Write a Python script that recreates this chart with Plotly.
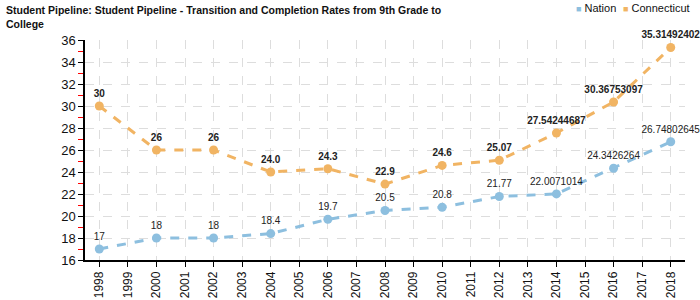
import plotly.graph_objects as go

years = [1998, 2000, 2002, 2004, 2006, 2008, 2010, 2012, 2014, 2016, 2018]
nation = [17, 18, 18, 18.4, 19.7, 20.5, 20.8, 21.77, 22.0071014, 24.3426264, 26.74802645]
nation_text = ["17", "18", "18", "18.4", "19.7", "20.5", "20.8", "21.77", "22.0071014", "24.3426264", "26.74802645"]
ct = [30, 26, 26, 24.0, 24.3, 22.9, 24.6, 25.07, 27.54244687, 30.36753097, 35.31492402]
ct_text = ["30", "26", "26", "24.0", "24.3", "22.9", "24.6", "25.07", "27.54244687", "30.36753097", "35.31492402"]
series_names = ["Nation", "Connecticut"]

blue = "#8dbfdf"
orange = "#f1b463"
font = "Liberation Sans, Arial, sans-serif"

fig = go.Figure()
fig.add_trace(go.Scatter(
    x=years, y=nation, mode="lines+markers+text", text=nation_text, name=series_names[0],
    textposition="top center", textfont=dict(size=10, color="#222", family=font),
    line=dict(color=blue, width=3, dash="dash"), marker=dict(size=9, color=blue),
    showlegend=False, cliponaxis=False))
fig.add_trace(go.Scatter(
    x=years, y=ct, mode="lines+markers+text", text=["<b>%s</b>" % t for t in ct_text], name=series_names[1],
    textposition="top center", textfont=dict(size=10, color="#222", family=font),
    line=dict(color=orange, width=3, dash="dash"), marker=dict(size=9, color=orange),
    showlegend=False, cliponaxis=False))

# legend as annotations (tight square marker + label)
fig.add_annotation(xref="paper", yref="paper", x=0.815, y=1.145, xanchor="left", yanchor="middle",
                   showarrow=False, font=dict(size=11, family=font, color="#111"),
                   text='<span style="color:%s;font-size:9px">■</span> %s' % (blue, series_names[0]))
fig.add_annotation(xref="paper", yref="paper", x=0.893, y=1.145, xanchor="left", yanchor="middle",
                   showarrow=False, font=dict(size=11, family=font, color="#111"),
                   text='<span style="color:%s;font-size:9px">■</span> %s' % (orange, series_names[1]))

# title as annotation
fig.add_annotation(xref="paper", yref="paper", x=-0.135, y=1.175, xanchor="left", yanchor="top",
                   align="left", showarrow=False, font=dict(size=10.5, family=font, color="#111"),
                   text="<b>Student Pipeline: Student Pipeline - Transition and Completion Rates from 9th Grade to<br>College</b>")

fig.update_layout(
    width=700, height=300,
    margin=dict(l=85, r=15, t=40, b=40, autoexpand=False),
    paper_bgcolor="white", plot_bgcolor="white",
    font=dict(family=font, size=12, color="#111"),
    showlegend=False,
    xaxis=dict(range=[1997.5, 2018.5], tickmode="linear", dtick=1, tick0=1998,
               tickangle=-90, showline=True, linecolor="black", linewidth=1.5,
               ticks="outside", ticklen=5, tickcolor="black", automargin=False,
               showgrid=True, gridcolor="#dddddd", griddash="dash", gridwidth=1,
               zeroline=False, tickfont=dict(size=12, family=font)),
    yaxis=dict(range=[16, 36], tickmode="linear", dtick=2, tick0=16,
               showline=True, linecolor="black", linewidth=1.5, automargin=False,
               ticks="outside", ticklen=5, tickcolor="black",
               showgrid=True, gridcolor="#dddddd", griddash="dash", gridwidth=1,
               zeroline=False, tickfont=dict(size=13, family=font),
               minor=dict(dtick=1, tick0=17, ticks="outside", ticklen=5, tickcolor="red", showgrid=False)),
)

fig.write_html("out.html")
